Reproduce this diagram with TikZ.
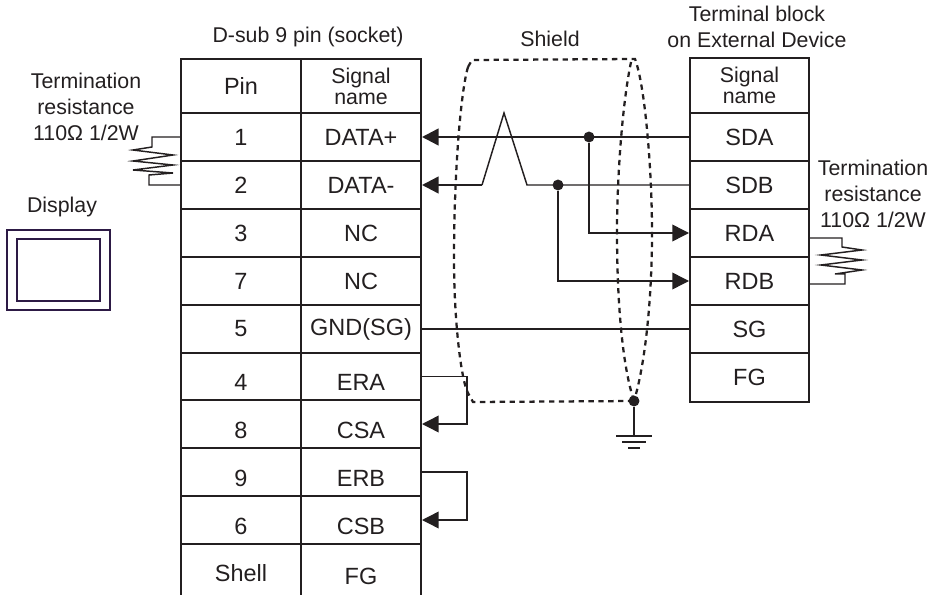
\documentclass[tikz,border=0pt]{standalone}
\usepackage{fontspec}
\setmainfont{Liberation Sans}
\usetikzlibrary{arrows.meta}
\definecolor{ink}{HTML}{231F20}
\definecolor{dispcol}{HTML}{2D1A45}
\newcommand{\lowtxt}[1]{\raisebox{-4.5pt}[\height][\depth]{#1}}
\tikzset{
  txt/.style={text=ink, align=center, inner sep=0pt, font=\fontsize{16}{19.5}\selectfont},
  cell/.style={txt, draw=ink, line width=1.5pt, font=\fontsize{17.6}{20}\selectfont},
  headcell/.style={cell, font=\fontsize{16}{15.8}\selectfont},
  opencell/.style={txt, font=\fontsize{17.6}{20}\selectfont},
  wire/.style={draw=ink, line width=1.1pt},
  fatwire/.style={draw=ink, line width=1.9pt},
  tip/.style={-{Triangle[length=12.5pt,width=12.5pt]}},
  shieldline/.style={draw=ink, line width=1.7pt, dash pattern=on 4pt off 3.4pt},
  jdot/.style={circle, fill=ink, inner sep=0pt, minimum size=8.2pt},
}
\begin{document}
\begin{tikzpicture}[x=0.75pt, y=-0.75pt]
\useasboundingbox (0,0) rectangle (930,595);

\def\xleft{181};
\def\xsep{301};
\def\xright{421};
\def\xterm{690};
\def\xtermr{809};

% left connector
\node[cell, minimum width=120*0.75pt, minimum height=54*0.75pt] (phead) at ({(\xleft+\xsep)/2}, 86) {Pin};
\node[headcell, minimum width=120*0.75pt, minimum height=54*0.75pt] (shead) at ({(\xsep+\xright)/2}, 86) {Signal\\name};
\foreach \n/\ya/\yb/\sig in {1/113/161/DATA+, 2/161/209/DATA-, 3/209/257/NC, 7/257/305/NC, 5/305/353/GND(SG)} {
  \node[cell, minimum width=120*0.75pt, minimum height=(\yb-\ya)*0.75pt] (p\n) at ({(\xleft+\xsep)/2}, {(\ya+\yb)/2}) {\n};
  \node[cell, minimum width=120*0.75pt, minimum height=(\yb-\ya)*0.75pt] (s\n) at ({(\xsep+\xright)/2}, {(\ya+\yb)/2}) {\sig};
}
\foreach \n/\ya/\yb/\sig in {4/353/400/ERA, 8/400/448/CSA, 9/448/496/ERB, 6/496/544/CSB} {
  \node[cell, minimum width=120*0.75pt, minimum height=(\yb-\ya)*0.75pt] (p\n) at ({(\xleft+\xsep)/2}, {(\ya+\yb)/2}) {\lowtxt{\n}};
  \node[cell, minimum width=120*0.75pt, minimum height=(\yb-\ya)*0.75pt] (s\n) at ({(\xsep+\xright)/2}, {(\ya+\yb)/2}) {\lowtxt{\sig}};
}
\node[opencell, minimum width=120*0.75pt, minimum height=51*0.75pt] (pshell) at ({(\xleft+\xsep)/2}, 570) {\raisebox{-2.5pt}[\height][\depth]{Shell}};
\node[opencell, minimum width=120*0.75pt, minimum height=51*0.75pt] (sshell) at ({(\xsep+\xright)/2}, 570) {\lowtxt{FG}};
\draw[draw=ink, line width=1.5pt] (pshell.north west) -- (pshell.south west);
\draw[draw=ink, line width=1.5pt] (pshell.north east) -- (pshell.south east);
\draw[draw=ink, line width=1.5pt] (sshell.north east) -- (sshell.south east);

% terminal block
\node[headcell, minimum width=119*0.75pt, minimum height=55*0.75pt] (thead) at ({(\xterm+\xtermr)/2}, 85.5) {Signal\\name};
\foreach \n/\ya/\yb/\sig in {sda/113/161/SDA, sdb/161/209/SDB, rda/209/257/RDA, rdb/257/305/RDB, sg/305/353/SG, fg/353/402/FG} {
  \node[cell, minimum width=119*0.75pt, minimum height=(\yb-\ya)*0.75pt] (\n) at ({(\xterm+\xtermr)/2}, {(\ya+\yb)/2}) {\sig};
}

% captions
\node[txt] (lblsub) at (308, 37) {D-sub 9 pin (socket)};
\node[txt] (lblshield) at (550, 39) {Shield};
\node[txt] (lblblock) at (757, 27) {Terminal block\\on External Device};
\node[txt] (lblterma) at (86, 107) {Termination\\resistance\\110Ω 1/2W};
\node[txt] (lbltermb) at (873, 194) {Termination\\resistance\\110Ω 1/2W};
\node[txt] (lbldisp) at (62, 207) {Display};

% display
\node[draw=dispcol, line width=2.2pt, minimum width=103*0.75pt, minimum height=80*0.75pt, inner sep=0pt] (dispout) at (58.5, 270) {};
\node[draw=dispcol, line width=1.8pt, minimum width=83*0.75pt, minimum height=62*0.75pt, inner sep=0pt] (dispin) at (58.5, 270) {};

% shield
\draw[shieldline] (468,67) .. controls (461,90) and (454,170) .. (454,260) .. controls (454,320) and (461,380) .. (468,393) -- (473,402) -- (634,401);
\draw[shieldline] (468,67) -- (472,60) -- (635,59) .. controls (645,85) and (652,170) .. (652,232) .. controls (652,300) and (645,365) .. (634,401);
\draw[shieldline] (631,62) .. controls (622,105) and (617,180) .. (617,232) .. controls (617,300) and (622,365) .. (634,401);

% wires
\node[jdot] (ja) at (589,137) {};
\node[jdot] (jb) at (558,185) {};
\node[jdot] (jg) at (634,401) {};
\coordinate (kinkr) at (527,185);
\coordinate (kinkt) at (504,113);
\coordinate (kinkl) at (482,185);

\draw[fatwire, tip] (sda.west) -- (s1.east);
\draw[wire] (sdb.west) -- (kinkr) -- (kinkt) -- (kinkl);
\draw[fatwire, tip] (kinkl) -- (s2.east);
\draw[wire, tip] (ja) |- (rda.west);
\draw[wire, tip] (jb) |- (rdb.west);
\draw[wire] (s5.east) -- (sg.west);
\draw[wire, tip] (s4.east) -- ++(45,0) |- (s8.east);
\draw[wire, tip] (s9.east) -- ++(45,0) |- (s6.east);

% ground
\draw[fatwire] (jg) -- ++(0,35) coordinate (gnd);
\foreach \dy/\w in {0/18, 6/12, 12/6} {
  \draw[wire] ([shift={(-\w,\dy)}]gnd) -- ([shift={(\w,\dy)}]gnd);
}

% resistors
\draw[wire] (p1.west) -- (152,137) -- (152,147) -- (133,150) -- (173,155) -- (133,161) -- (173,165) -- (133,170) -- (173,173) -- (149,175) -- (149,185) -- (p2.west);
\draw[wire] ([yshift=-3.75pt]rda.east) -- (842,238) -- (842,247) -- (862,250) -- (821,255) -- (862,260) -- (821,265) -- (862,270) -- (835,274) -- (845,274) -- (845,284) -- ([yshift=-2.25pt]rdb.east);

\end{tikzpicture}
\end{document}
